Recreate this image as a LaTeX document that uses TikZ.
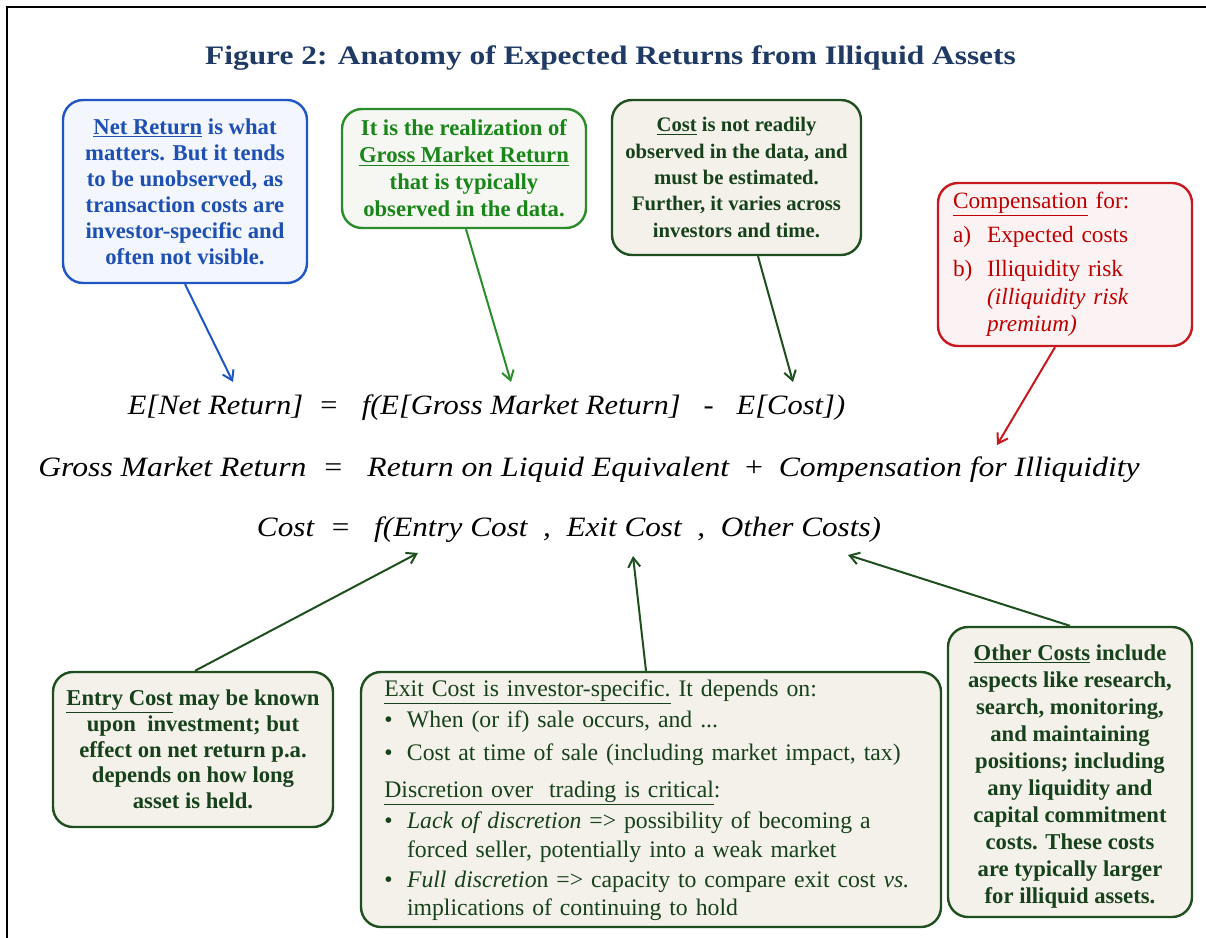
\documentclass[tikz,border=0pt]{standalone}
\usepackage{fontspec}
\usepackage{graphicx}
\setmainfont{Liberation Serif}
\usetikzlibrary{arrows.meta,calc}
\definecolor{titleblue}{HTML}{1F3A64}
\definecolor{bluebd}{HTML}{1F56C4}
\definecolor{bluetx}{HTML}{1E50B4}
\definecolor{bluefill}{HTML}{F3F6FC}
\definecolor{greenbd}{HTML}{2A8C2A}
\definecolor{greentx}{HTML}{1A861A}
\definecolor{greenfill}{HTML}{F6F7F2}
\definecolor{dgbd}{HTML}{1F4E1F}
\definecolor{dgtx}{HTML}{17411A}
\definecolor{beige}{HTML}{F3F1EA}
\definecolor{redbd}{HTML}{C8171E}
\definecolor{redtx}{HTML}{C00000}
\definecolor{redfill}{HTML}{FBF3F3}
\tikzset{
  box/.style={rounded corners=15pt, line width=1.8pt, inner sep=0pt},
  conn/.style={line width=1.5pt, -{Straight Barb[length=7pt,width=9pt]}},
  eqn/.style={inner sep=0pt, font=\fontsize{21}{25}\selectfont\itshape}
}
\begin{document}
\begin{tikzpicture}[x=0.75pt,y=-0.75pt]
\useasboundingbox (0,0) rectangle (1206,938);
% frame
\draw[line width=2.2pt] (7,938) -- (7,7) -- (1206,7);
% title
\node[inner sep=0pt, text=titleblue, font=\fontsize{20}{24}\selectfont\bfseries] (title) at (610.5,58)
  {\resizebox{608pt}{\height}{Figure 2: Anatomy of Expected Returns from Illiquid Assets}};

% top boxes
\node[box, draw=bluebd, fill=bluefill, text=bluetx, minimum width=183pt, minimum height=137.25pt,
  align=center, font=\fontsize{17}{19.5}\selectfont\bfseries] (net) at (185,191.5)
  {\underline{Net Return} is what\\ matters. But it tends\\ to be unobserved, as\\ transaction costs are\\ investor-specific and\\ often not visible.};
\node[box, draw=greenbd, fill=greenfill, text=greentx, minimum width=183pt, minimum height=89.25pt,
  align=center, font=\fontsize{17}{20.25}\selectfont\bfseries] (gross) at (464,168.5)
  {It is the realization of\\ \underline{Gross Market Return}\\ that is typically\\ observed in the data.};
\node[box, draw=dgbd, fill=beige, text=dgtx, minimum width=186.75pt, minimum height=116.25pt,
  align=center, font=\fontsize{15.5}{19.75}\selectfont\bfseries] (cost) at (736.5,177.5)
  {\underline{Cost} is not readily\\ observed in the data, and\\ must be estimated.\\ Further, it varies across\\ investors and time.};
\node[box, draw=redbd, fill=redfill, text=redtx, minimum width=190.5pt, minimum height=122.25pt,
  text width=168pt, align=left, font=\fontsize{17.5}{20.5}\selectfont] (comp) at (1065,264.5)
  {\underline{Compensation} for:\\[5pt]
   \makebox[25.5pt][l]{a)}Expected costs\\[5pt]
   \makebox[25.5pt][l]{b)}Illiquidity risk\\
   \hspace*{25.5pt}\textit{(illiquidity risk}\\
   \hspace*{25.5pt}\textit{premium)}};

% equations
\node[eqn] (eq1) at (486.5,408)
  {\resizebox{538pt}{\height}{E[Net Return]\enspace = \enspace f(E[Gross Market Return]\enspace\ -\enspace\ E[Cost])}};
\node[eqn] (eq2) at (589,470)
  {\resizebox{826pt}{\height}{Gross Market Return\enspace = \enspace Return on Liquid Equivalent\enspace {\upshape +}\enspace Compensation for Illiquidity}};
\node[eqn] (eq3) at (569,530)
  {\resizebox{468pt}{\height}{Cost\enspace = \enspace f(Entry Cost\enspace ,\enspace Exit Cost\enspace ,\enspace Other Costs)}};

% bottom boxes
\node[box, draw=dgbd, fill=beige, text=dgtx, minimum width=210pt, minimum height=116.25pt,
  align=center, font=\fontsize{17}{19.25}\selectfont\bfseries] (entry) at (193,749.5)
  {\underline{Entry Cost} may be known\\ upon~~investment; but\\ effect on net return p.a.\\ depends on how long\\ asset is held.};
\node[box, draw=dgbd, fill=beige, text=dgtx, minimum width=435pt, minimum height=191.25pt,
  text width=400pt, align=left, font=\fontsize{17.8}{21.5}\selectfont] (exit) at (651,799.5)
  {\rule{0pt}{14pt}\underline{Exit Cost is investor-specific.} It depends on:\\[2pt]
   \makebox[17pt][l]{\textbullet}When (or if) sale occurs, and ...\\[3pt]
   \makebox[17pt][l]{\textbullet}Cost at time of sale (including market impact, tax)\\[6pt]
   \underline{Discretion over~~trading is critical}:\\[2pt]
   \makebox[17pt][l]{\textbullet}\textit{Lack of discretion} => possibility of becoming a\\
   \hspace*{17pt}forced seller, potentially into a weak market\\[1pt]
   \makebox[17pt][l]{\textbullet}\textit{Full discretio}n => capacity to compare exit cost \textit{vs.}\\
   \hspace*{17pt}implications of continuing to hold};
\node[box, draw=dgbd, fill=beige, text=dgtx, minimum width=183pt, minimum height=217.5pt,
  align=center, font=\fontsize{17}{20.25}\selectfont\bfseries] (other) at (1070,772)
  {\rule{0pt}{18pt}\underline{Other Costs} include\\ aspects like research,\\ search, monitoring,\\ and maintaining\\ positions; including\\ any liquidity and\\ capital commitment\\ costs. These costs\\ are typically larger\\ for illiquid assets.};

% arrow targets
\coordinate (tNet) at (233,382);
\coordinate (tGross) at (511,382);
\coordinate (tCost) at (793,382);
\coordinate (tComp) at (997,445);
\coordinate (tEntry) at (418,553);
\coordinate (tExit) at (633,556);
\coordinate (tOther) at (848,555);

% connectors
\draw[conn, draw=bluebd] (net.south) -- (tNet);
\draw[conn, draw=greenbd] ($(gross.south)+(2,0)$) -- (tGross);
\draw[conn, draw=dgbd] ($(cost.south)+(21.5,0)$) -- (tCost);
\draw[conn, draw=redbd] ($(comp.south)+(-10,0)$) -- (tComp);
\draw[conn, draw=dgbd] ($(entry.north)+(2,0)$) -- (tEntry);
\draw[conn, draw=dgbd] ($(exit.north)+(-5,0)$) -- (tExit);
\draw[conn, draw=dgbd] (other.north) -- (tOther);
\end{tikzpicture}
\end{document}
